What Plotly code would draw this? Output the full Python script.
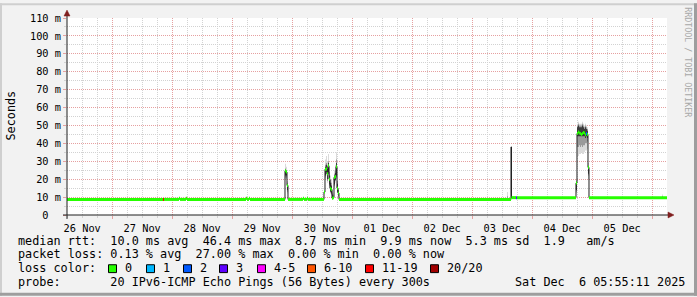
import plotly.graph_objects as go
from datetime import datetime, timedelta

# ---------------- data ----------------
START = "2025-11-26 05:55:11"
END = "2025-12-06 05:55:11"
STEP_MIN = 24  # consolidation step of the RRA (minutes)

# median rtt (ms), value holds until next change point; loss bucket index (-1 = not drawn)
median_time = [
    "2025-11-26 05:55", "2025-11-27 20:19", "2025-11-27 20:43",
    "2025-11-28 02:43", "2025-11-28 03:07", "2025-11-28 05:31", "2025-11-28 05:55",
    "2025-11-29 05:31", "2025-11-29 05:55", "2025-11-29 06:43", "2025-11-29 07:07",
    "2025-11-29 21:07", "2025-11-29 21:31", "2025-11-29 21:55", "2025-11-29 22:19",
    "2025-11-30 04:19", "2025-11-30 04:43", "2025-11-30 05:55", "2025-11-30 06:19",
    "2025-11-30 12:43", "2025-11-30 13:07", "2025-11-30 13:31", "2025-11-30 13:55",
    "2025-11-30 14:19", "2025-11-30 14:43", "2025-11-30 15:07", "2025-11-30 15:31",
    "2025-11-30 15:55", "2025-11-30 16:19", "2025-11-30 16:43", "2025-11-30 17:07",
    "2025-11-30 17:31", "2025-11-30 17:55", "2025-11-30 18:19", "2025-11-30 18:43",
    "2025-12-03 15:31", "2025-12-03 15:43", "2025-12-03 17:31", "2025-12-03 17:55",
    "2025-12-04 17:31", "2025-12-04 17:55", "2025-12-04 18:19", "2025-12-04 18:43",
    "2025-12-04 19:07", "2025-12-04 19:31", "2025-12-04 19:55", "2025-12-04 20:19",
    "2025-12-04 20:43", "2025-12-04 21:07", "2025-12-04 21:31", "2025-12-04 21:55",
    "2025-12-04 22:19", "2025-12-04 22:43",
]
median_ms = [
    8.7, 8.7, 8.7,
    9.3, 8.7, 9.3, 8.7,
    9.3, 8.7, 9.3, 8.7,
    24.7, 24.0, 16.5, 8.7,
    9.3, 8.7, 9.3, 8.7,
    12.8, 25.5, 25.7, 23.0,
    27.5, 20.0, 15.0, 14.3,
    9.4, 9.7, 21.0, 21.5,
    27.0, 15.0, 12.3, 8.7,
    38.0, 9.7, 9.7, 9.7,
    17.8, 45.5, 46.4, 45.8,
    45.5, 45.0, 45.5, 46.0,
    45.8, 44.8, 45.5, 45.0,
    26.6, 9.7,
]
median_loss = [
    0, 6, 0,
    0, 0, 0, 0,
    0, 0, 0, 0,
    0, 0, 0, 0,
    0, 0, 0, 0,
    0, 0, 0, 0,
    0, 0, 0, 0,
    0, 0, 0, 0,
    0, 0, 0, 0,
    -1, 0, 3, 0,
    0, 0, 0, 0,
    0, 0, 0, 0,
    0, 0, 2, 0,
    0, 0,
]

# smoke (spread of the 20 pings), one consolidation step each
smoke_time = [
    "2025-11-29 21:07", "2025-11-29 21:31", "2025-11-29 21:55",
    "2025-11-30 13:07", "2025-11-30 13:31", "2025-11-30 13:55", "2025-11-30 14:19",
    "2025-11-30 14:43", "2025-11-30 15:07", "2025-11-30 15:31", "2025-11-30 15:55",
    "2025-11-30 16:19", "2025-11-30 16:43", "2025-11-30 17:07", "2025-11-30 17:31",
    "2025-11-30 17:55", "2025-11-30 18:19",
    "2025-12-03 13:55",
    "2025-12-04 17:31", "2025-12-04 17:55", "2025-12-04 18:19", "2025-12-04 18:43",
    "2025-12-04 19:07", "2025-12-04 19:31", "2025-12-04 19:55", "2025-12-04 20:19",
    "2025-12-04 20:43", "2025-12-04 21:07", "2025-12-04 21:31", "2025-12-04 21:55",
    "2025-12-04 22:19",
    "2025-12-06 03:55",
]
# outer (light) band: min .. max ping
smoke_lo = [
    20, 20, 12,
    20, 22, 18, 22,
    15, 12, 11, 9,
    9, 15, 18, 20,
    12, 10,
    8.7,
    12, 33, 33, 34,
    34, 35, 34, 34,
    35, 36, 36, 37,
    20,
    9.7,
]
smoke_hi = [
    28.6, 27, 19,
    31, 33, 30, 34,
    27, 22, 20, 14,
    12, 25, 28, 35,
    22, 15,
    12.8,
    20, 51, 52, 51,
    51, 51, 52, 51,
    50, 51, 50, 49,
    29,
    11.5,
]
# middle band
smoke_mid_lo = [
    21, 21, 13,
    21, 23, 19, 23,
    16, 12.5, 11.5, 9.1,
    9.2, 16, 19, 21,
    12.5, 10.5,
    8.7,
    13, 38, 38, 39,
    38, 39, 38, 39,
    39, 40, 40, 41,
    22,
    9.7,
]
smoke_mid_hi = [
    26, 25, 18,
    28, 29, 27, 30,
    24, 19.5, 18, 12.5,
    11, 23, 25, 31,
    19, 14,
    10.5,
    19, 50, 51, 50,
    50, 50, 51, 50,
    49, 50, 49, 48,
    27,
    10.5,
]
# dense core
smoke_core_lo = [
    22, 22, 14,
    22, 24, 20, 24,
    17, 13, 12, 9.2,
    9.3, 17, 19.5, 22,
    13, 11,
    8.7,
    14, 44, 44, 44,
    44, 44, 44, 44,
    44, 43, 44, 43,
    23,
    9.7,
]
smoke_core_hi = [
    25, 24, 17,
    27, 28, 25.5, 29,
    22, 18, 16.5, 11.5,
    10.5, 22, 23.5, 29,
    17.5, 13.5,
    9.5,
    18, 49, 50, 49,
    49, 49, 50, 49,
    48, 49, 48, 47,
    26,
    10.0,
]

loss_labels = ["0", "1", "2", "3", "4-5", "6-10", "11-19", "20/20"]
loss_colors = ["#26ff00", "#00b8ff", "#0059ff", "#5e00ff", "#ff00ff", "#ff5500", "#ff0000", "#a10000"]

y_tickvals = [0, 10, 20, 30, 40, 50, 60, 70, 80, 90, 100, 110]
y_ticktext = ["0\u00a0\u00a0", "10 m", "20 m", "30 m", "40 m", "50 m", "60 m",
              "70 m", "80 m", "90 m", "100 m", "110 m"]

legend_lines = [
    "median rtt:  10.0 ms avg  46.4 ms max  8.7 ms min  9.9 ms now  5.3 ms sd  1.9   am/s",
    "packet loss: 0.13 % avg  27.00 % max  0.00 % min  0.00 % now",
    "loss color:",
    "probe:       20 IPv6-ICMP Echo Pings (56 Bytes) every 300s",
]
timestamp_text = "Sat Dec  6 05:55:11 2025"
y_title = "Seconds"
watermark = "RRDTOOL / TOBI OETIKER"

# ---------------- layout geometry ----------------
W, H = 697, 297
L, T, PW, PH = 67, 15, 600, 200
MONO = "DejaVu Sans Mono"
FS_LEG = 11.8
FS_AX = 10.3


def px(xp):
    return (xp - L) / PW


def py(yp):
    return (T + PH - yp) / PH


def nb(s):
    return s.replace(" ", "\u00a0")


fmt = "%Y-%m-%d %H:%M"
step = timedelta(minutes=STEP_MIN)
m_t = [datetime.strptime(s, fmt) for s in median_time]
end_t = datetime.strptime(END, "%Y-%m-%d %H:%M:%S")

fig = go.Figure()


def rects(times, lo, hi):
    xs, ys = [], []
    for s, a, b in zip(times, lo, hi):
        t0 = datetime.strptime(s, fmt)
        t1 = t0 + step
        xs += [t0, t1, t1, t0, t0, None]
        ys += [a, a, b, b, a, None]
    return xs, ys


for lo, hi, col in [(smoke_lo, smoke_hi, "#dadada"),
                    (smoke_mid_lo, smoke_mid_hi, "#9a9a9a"),
                    (smoke_core_lo, smoke_core_hi, "#3c3c3c")]:
    sx, sy = rects(smoke_time, lo, hi)
    fig.add_trace(go.Scatter(x=sx, y=sy, mode="lines", fill="toself", fillcolor=col,
                             line=dict(width=0), hoverinfo="skip", showlegend=False))

# black median line
fig.add_trace(go.Scatter(x=m_t + [end_t], y=median_ms + [median_ms[-1]], mode="lines",
                         line=dict(color="#202020", width=1, shape="hv"),
                         hoverinfo="skip", showlegend=False))

# colored median segments by loss bucket
for k, col in enumerate(loss_colors):
    xs, ys = [], []
    for i, (t0, v, ls) in enumerate(zip(m_t, median_ms, median_loss)):
        if ls != k:
            continue
        t1 = m_t[i + 1] if i + 1 < len(m_t) else end_t
        xs += [t0, t1, None]
        ys += [v, v, None]
    if xs:
        fig.add_trace(go.Scatter(x=xs, y=ys, mode="lines",
                                 line=dict(color=col, width=3),
                                 hoverinfo="skip", showlegend=False))

grid_minor = "#d2d2d2"
grid_major = "#e6a0a0"

fig.update_layout(
    width=W, height=H,
    margin=dict(l=L, r=W - L - PW, t=T, b=H - T - PH, pad=0),
    paper_bgcolor="#f2f2f2", plot_bgcolor="#ffffff",
    font=dict(family=MONO, size=FS_AX, color="#000000"),
    xaxis=dict(
        type="date", range=[START, END],
        dtick=86400000, tick0="2025-11-26 00:00",
        tickformat="%d %b", ticklabelmode="period",
        showgrid=True, gridcolor=grid_major, griddash="1px,1px", gridwidth=1,
        ticks="outside", ticklen=3, tickcolor=grid_major, ticklabelstandoff=1,
        tickfont=dict(family=MONO, size=FS_AX, color="#000000"),
        showline=False, zeroline=False,
        minor=dict(dtick=6 * 3600000, tick0="2025-11-26 00:00", showgrid=True,
                   gridcolor=grid_minor, griddash="1px,1px", gridwidth=1,
                   ticks="outside", ticklen=2, tickcolor=grid_minor),
    ),
    yaxis=dict(
        range=[0, 110], tickvals=y_tickvals, ticktext=y_ticktext,
        showgrid=True, gridcolor=grid_major, griddash="1px,1px", gridwidth=1,
        ticks="outside", ticklen=3, tickcolor=grid_major,
        tickfont=dict(family=MONO, size=FS_AX, color="#000000"),
        showline=False, zeroline=False,
        minor=dict(dtick=5, showgrid=True, gridcolor=grid_minor, griddash="1px,1px",
                   gridwidth=1, ticks="outside", ticklen=2, tickcolor=grid_minor),
    ),
)

shapes = []
ax_col = "#1f1f1f"
arrow_col = "#801f1f"
# axes
shapes.append(dict(type="line", xref="paper", yref="paper", x0=px(63), x1=px(669),
                   y0=py(215), y1=py(215), line=dict(color=ax_col, width=1)))
shapes.append(dict(type="line", xref="paper", yref="paper", x0=px(67), x1=px(67),
                   y0=py(219), y1=py(12), line=dict(color=ax_col, width=1)))
shapes.append(dict(type="path", xref="paper", yref="paper",
                   path=f"M {px(668)} {py(212)} L {px(674)} {py(215)} L {px(668)} {py(218)} Z",
                   fillcolor=arrow_col, line=dict(color=arrow_col, width=0.5)))
shapes.append(dict(type="path", xref="paper", yref="paper",
                   path=f"M {px(64)} {py(13)} L {px(67)} {py(7)} L {px(70)} {py(13)} Z",
                   fillcolor=arrow_col, line=dict(color=arrow_col, width=0.5)))
# frame (3d border)
shapes.append(dict(type="rect", xref="paper", yref="paper", x0=px(0), x1=px(W), y0=py(0), y1=py(2),
                   fillcolor="#cfcfcf", line=dict(width=0)))
shapes.append(dict(type="rect", xref="paper", yref="paper", x0=px(0), x1=px(2), y0=py(0), y1=py(H),
                   fillcolor="#cfcfcf", line=dict(width=0)))
shapes.append(dict(type="rect", xref="paper", yref="paper", x0=px(W - 3), x1=px(W), y0=py(0), y1=py(H),
                   fillcolor="#9e9e9e", line=dict(width=0)))
shapes.append(dict(type="rect", xref="paper", yref="paper", x0=px(0), x1=px(W), y0=py(H - 3), y1=py(H),
                   fillcolor="#9e9e9e", line=dict(width=0)))

annotations = []
row_mid = [241, 255, 269, 283]
for line, ym in zip(legend_lines, row_mid):
    annotations.append(dict(text=nb(line), x=px(16), y=py(ym), xref="paper", yref="paper",
                            xanchor="left", yanchor="middle", showarrow=False,
                            font=dict(family=MONO, size=FS_LEG, color="#000000")))
annotations.append(dict(text=nb(timestamp_text), x=px(513), y=py(283), xref="paper", yref="paper",
                        xanchor="left", yanchor="middle", showarrow=False,
                        font=dict(family=MONO, size=FS_LEG, color="#000000")))

box_left = [108, 146, 183, 219, 257, 307, 365, 430]
for bx, lab, col in zip(box_left, loss_labels, loss_colors):
    shapes.append(dict(type="rect", xref="paper", yref="paper",
                       x0=px(bx + 0.5), x1=px(bx + 8.5), y0=py(265.5), y1=py(273.5),
                       fillcolor=col, line=dict(color="#000000", width=1)))
    annotations.append(dict(text=nb(lab), x=px(bx + 15), y=py(269), xref="paper", yref="paper",
                            xanchor="left", yanchor="middle", showarrow=False,
                            font=dict(family=MONO, size=FS_LEG, color="#000000")))

annotations.append(dict(text=y_title, x=px(11), y=py(114), xref="paper", yref="paper",
                        xanchor="center", yanchor="middle", textangle=-90, showarrow=False,
                        font=dict(family=MONO, size=FS_LEG, color="#000000")))
annotations.append(dict(text=nb(watermark), x=px(688), y=py(60), xref="paper", yref="paper",
                        xanchor="center", yanchor="middle", textangle=90, showarrow=False,
                        font=dict(family=MONO, size=8.3, color="#a8a8a8")))

fig.update_layout(shapes=shapes, annotations=annotations)
fig.write_html("out.html")
